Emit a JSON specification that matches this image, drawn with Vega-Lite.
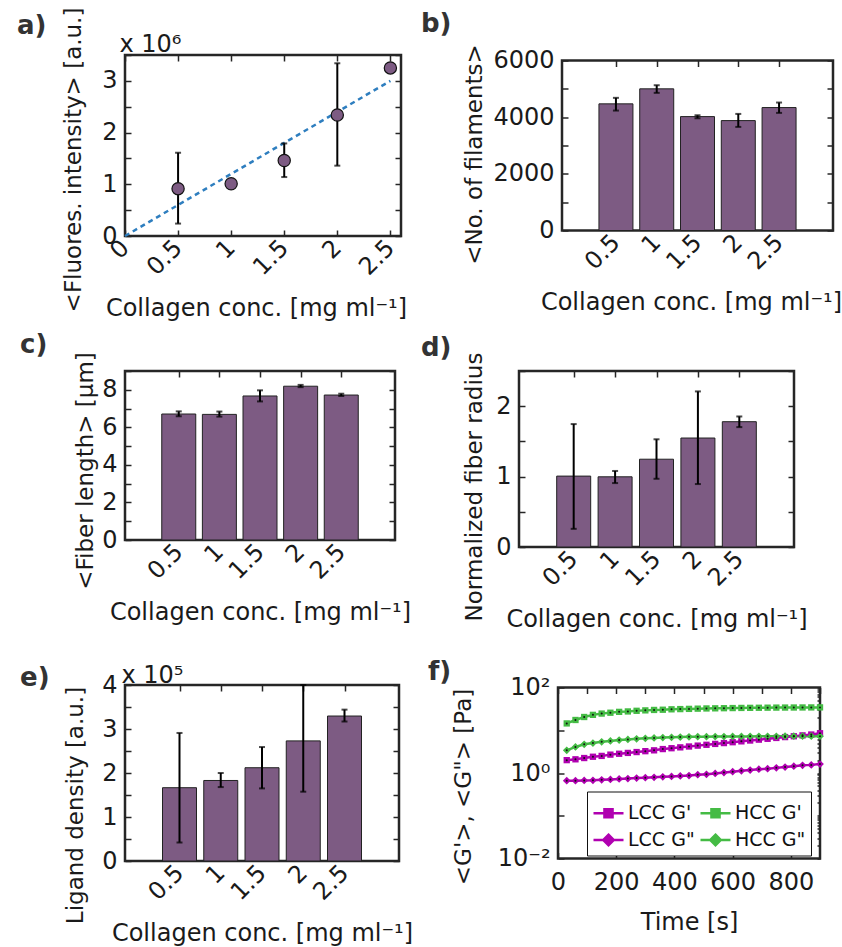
{
"$schema":"https://vega.github.io/schema/vega-lite/v6.json",
"padding":{"left":15,"top":5,"right":0,"bottom":2},
"spacing":8,
"resolve":{"scale":{"color":"independent"},"legend":{"color":"independent"}},
"config":{
 "font":"DejaVu Sans",
 "view":{"stroke":"#262626","strokeWidth":2.5},
 "axis":{"labelFont":"DejaVu Sans","titleFont":"DejaVu Sans","labelFontSize":24,"titleFontSize":24,"titleFontWeight":"normal","labelColor":"#1a1a1a","titleColor":"#1a1a1a","domain":false,"grid":false,"tickColor":"#262626","tickSize":-6,"tickWidth":1.5,"labelPadding":14,"titlePadding":10,"labelFlush":false,"labelOverlap":false,"labelBound":false},
 "axisX":{"titlePadding":17},
 "axisY":{"titleFontSize":23},
 "title":{"fontSize":26,"fontWeight":"bold","anchor":"start","frame":"group","color":"#333333","font":"DejaVu Sans"}
},
"vconcat":[
{"hconcat":[
 {"width":276,"height":181,
  "title":{"text":"a)","dx":-108,"dy":36},
  "data":{"values":[
   {"c":0.5,"v":915000,"lo":240000,"hi":1610000},
   {"c":1,"v":1010000,"lo":985000,"hi":1035000},
   {"c":1.5,"v":1460000,"lo":1140000,"hi":1790000},
   {"c":2,"v":2340000,"lo":1360000,"hi":3340000},
   {"c":2.5,"v":3250000,"lo":3220000,"hi":3280000}]},
  "layer":[
   {"data":{"values":[{"c":0,"v":0},{"c":2.5,"v":3000000}]},
    "mark":{"type":"line","strokeDash":[5,4],"strokeWidth":2.5,"color":"#2e7ebf"},
    "encoding":{"x":{"field":"c","type":"quantitative","axis":null},"y":{"field":"v","type":"quantitative","axis":null}}},
   {"mark":{"type":"rule","strokeWidth":2,"color":"black"},
    "encoding":{
     "x":{"field":"c","type":"quantitative","axis":{"orient":"top","labels":false,"title":"x 10⁶","values":[0,0.5,1,1.5,2,2.5],"titleX":-6,"titleY":-4,"titleAlign":"left","titleBaseline":"alphabetic","titleAnchor":null}},
     "y":{"field":"lo","type":"quantitative","axis":{"orient":"right","labels":false,"title":null,"values":[0,500000,1000000,1500000,2000000,2500000,3000000,3500000]}},
     "y2":{"field":"hi"}}},
   {"mark":{"type":"tick","orient":"horizontal","size":6,"thickness":2,"color":"black"},
    "encoding":{"x":{"field":"c","type":"quantitative","axis":null},"y":{"field":"lo","type":"quantitative","axis":null}}},
   {"mark":{"type":"tick","orient":"horizontal","size":6,"thickness":2,"color":"black"},
    "encoding":{"x":{"field":"c","type":"quantitative","axis":null},"y":{"field":"hi","type":"quantitative","axis":null}}},
   {"mark":{"type":"point","filled":true,"size":150,"fill":"#7d5b83","stroke":"#111111","strokeWidth":1.2,"opacity":1},
    "encoding":{
     "x":{"field":"c","type":"quantitative","scale":{"domain":[0,2.6],"nice":false,"zero":false},"axis":{"values":[0,0.5,1,1.5,2,2.5],"format":"~g","labelAngle":-45,"labelAlign":"right","labelBaseline":"middle","title":"Collagen conc. [mg ml⁻¹]","titleX":131}},
     "y":{"field":"v","type":"quantitative","scale":{"domain":[0,3500000],"nice":false},"axis":{"values":[0,500000,1000000,1500000,2000000,2500000,3000000,3500000],"labelExpr":"datum.value % 1000000 === 0 ? format(datum.value/1000000,'d') : ''","title":"<Fluores. intensity> [a.u.]","titleY":104.5,"titlePadding":16}}}}
  ],
  "resolve":{"axis":{"x":"independent","y":"independent"}}
 },
 {"width":271,"height":170,
  "title":{"text":"b)","dx":-141,"dy":-3},
  "data":{"values":[
   {"c":0.5,"v":4470,"lo":4233,"hi":4682},
   {"c":1,"v":5000,"lo":4858,"hi":5127},
   {"c":1.5,"v":4020,"lo":3961,"hi":4067},
   {"c":2,"v":3879,"lo":3656,"hi":4115},
   {"c":2.5,"v":4339,"lo":4151,"hi":4516}]},
  "layer":[
   {"mark":{"type":"bar","orient":"vertical","size":34,"color":"#7d5b83","stroke":"#222222","strokeWidth":1},
    "encoding":{
     "x":{"field":"c","type":"quantitative","scale":{"domain":[-0.1,3.1],"nice":false,"zero":false},"axis":{"values":[0.5,1,1.5,2,2.5],"format":"~g","labelAngle":-45,"labelAlign":"right","labelBaseline":"middle","title":"Collagen conc. [mg ml⁻¹]","titleX":129}},
     "y":{"field":"v","type":"quantitative","scale":{"domain":[0,6000],"nice":false},"axis":{"values":[0,1000,2000,3000,4000,5000,6000],"format":"d","labelExpr":"datum.value % 2000 === 0 ? datum.label : ''","title":"<No. of filaments>","titleY":93.5,"titlePadding":6}}}},
   {"mark":{"type":"rule","strokeWidth":2,"color":"black"},
    "encoding":{
     "x":{"field":"c","type":"quantitative","axis":{"orient":"top","labels":false,"title":null,"values":[0.5,1,1.5,2,2.5]}},
     "y":{"field":"lo","type":"quantitative","axis":{"orient":"right","labels":false,"title":null,"values":[0,1000,2000,3000,4000,5000,6000]}},
     "y2":{"field":"hi"}}},
   {"mark":{"type":"tick","orient":"horizontal","size":6,"thickness":2,"color":"black"},
    "encoding":{"x":{"field":"c","type":"quantitative","axis":null},"y":{"field":"lo","type":"quantitative","axis":null}}},
   {"mark":{"type":"tick","orient":"horizontal","size":6,"thickness":2,"color":"black"},
    "encoding":{"x":{"field":"c","type":"quantitative","axis":null},"y":{"field":"hi","type":"quantitative","axis":null}}}
  ],
  "resolve":{"axis":{"x":"independent","y":"independent"}}
 }
 ],"spacing":161,"bounds":"flush","center":true},
{"vconcat":[
{"hconcat":[
 {"width":270,"height":169,
  "title":{"text":"c)","dx":-105,"dy":10},
  "data":{"values":[
   {"c":0.5,"v":6.71,"lo":6.59,"hi":6.85},
   {"c":1,"v":6.69,"lo":6.57,"hi":6.84},
   {"c":1.5,"v":7.67,"lo":7.38,"hi":7.97},
   {"c":2,"v":8.19,"lo":8.14,"hi":8.26},
   {"c":2.5,"v":7.72,"lo":7.67,"hi":7.79}]},
  "layer":[
   {"mark":{"type":"bar","orient":"vertical","size":34,"color":"#7d5b83","stroke":"#222222","strokeWidth":1},
    "encoding":{
     "x":{"field":"c","type":"quantitative","scale":{"domain":[-0.1,3.1],"nice":false,"zero":false},"axis":{"values":[0.5,1,1.5,2,2.5],"format":"~g","labelAngle":-45,"labelAlign":"right","labelBaseline":"middle","title":"Collagen conc. [mg ml⁻¹]"}},
     "y":{"field":"v","type":"quantitative","scale":{"domain":[0,9],"nice":false},"axis":{"values":[0,1,2,3,4,5,6,7,8,9],"format":"d","labelExpr":"datum.value % 2 === 0 ? datum.label : ''","title":"<Fiber length> [µm]","titleY":99.5,"titlePadding":4}}}},
   {"mark":{"type":"rule","strokeWidth":2,"color":"black"},
    "encoding":{
     "x":{"field":"c","type":"quantitative","axis":{"orient":"top","labels":false,"title":null,"values":[0.5,1,1.5,2,2.5]}},
     "y":{"field":"lo","type":"quantitative","axis":{"orient":"right","labels":false,"title":null,"values":[0,1,2,3,4,5,6,7,8,9]}},
     "y2":{"field":"hi"}}},
   {"mark":{"type":"tick","orient":"horizontal","size":6,"thickness":2,"color":"black"},
    "encoding":{"x":{"field":"c","type":"quantitative","axis":null},"y":{"field":"lo","type":"quantitative","axis":null}}},
   {"mark":{"type":"tick","orient":"horizontal","size":6,"thickness":2,"color":"black"},
    "encoding":{"x":{"field":"c","type":"quantitative","axis":null},"y":{"field":"hi","type":"quantitative","axis":null}}}
  ],
  "resolve":{"axis":{"x":"independent","y":"independent"}}
 },
 {"width":275,"height":176,
  "title":{"text":"d)","dx":-98,"dy":13},
  "data":{"values":[
   {"c":0.5,"v":1.007,"lo":0.258,"hi":1.746},
   {"c":1,"v":0.997,"lo":0.908,"hi":1.08},
   {"c":1.5,"v":1.247,"lo":0.969,"hi":1.53},
   {"c":2,"v":1.548,"lo":0.894,"hi":2.21},
   {"c":2.5,"v":1.78,"lo":1.703,"hi":1.854}]},
  "layer":[
   {"mark":{"type":"bar","orient":"vertical","size":34,"color":"#7d5b83","stroke":"#222222","strokeWidth":1},
    "encoding":{
     "x":{"field":"c","type":"quantitative","scale":{"domain":[-0.1,3.1],"nice":false,"zero":false},"axis":{"values":[0.5,1,1.5,2,2.5],"format":"~g","labelAngle":-45,"labelAlign":"right","labelBaseline":"middle","title":"Collagen conc. [mg ml⁻¹]"}},
     "y":{"field":"v","type":"quantitative","scale":{"domain":[0,2.5],"nice":false},"axis":{"values":[0,0.5,1,1.5,2,2.5],"labelExpr":"datum.value % 1 === 0 ? format(datum.value,'d') : ''","title":"Normalized fiber radius","titleY":115.5,"titlePadding":9}}}},
   {"mark":{"type":"rule","strokeWidth":2,"color":"black"},
    "encoding":{
     "x":{"field":"c","type":"quantitative","axis":{"orient":"top","labels":false,"title":null,"values":[0.5,1,1.5,2,2.5]}},
     "y":{"field":"lo","type":"quantitative","axis":{"orient":"right","labels":false,"title":null,"values":[0,0.5,1,1.5,2,2.5]}},
     "y2":{"field":"hi"}}},
   {"mark":{"type":"tick","orient":"horizontal","size":6,"thickness":2,"color":"black"},
    "encoding":{"x":{"field":"c","type":"quantitative","axis":null},"y":{"field":"lo","type":"quantitative","axis":null}}},
   {"mark":{"type":"tick","orient":"horizontal","size":6,"thickness":2,"color":"black"},
    "encoding":{"x":{"field":"c","type":"quantitative","axis":null},"y":{"field":"hi","type":"quantitative","axis":null}}}
  ],
  "resolve":{"axis":{"x":"independent","y":"independent"}}
 }
 ],"spacing":124,"bounds":"flush","center":false},
{"hconcat":[
 {"width":274,"height":176,
  "title":{"text":"e)","dx":-105,"dy":31.5},
  "data":{"values":[
   {"c":0.5,"v":166600,"lo":42000,"hi":291000},
   {"c":1,"v":183000,"lo":168000,"hi":200000},
   {"c":1.5,"v":212000,"lo":165000,"hi":259000},
   {"c":2,"v":273000,"lo":157500,"hi":400000},
   {"c":2.5,"v":329500,"lo":317000,"hi":344000}]},
  "layer":[
   {"mark":{"type":"bar","orient":"vertical","size":34,"color":"#7d5b83","stroke":"#222222","strokeWidth":1},
    "encoding":{
     "x":{"field":"c","type":"quantitative","scale":{"domain":[-0.1,3.1],"nice":false,"zero":false},"axis":{"values":[0.5,1,1.5,2,2.5],"format":"~g","labelAngle":-45,"labelAlign":"right","labelBaseline":"middle","title":"Collagen conc. [mg ml⁻¹]"}},
     "y":{"field":"v","type":"quantitative","scale":{"domain":[0,400000],"nice":false},"axis":{"values":[0,50000,100000,150000,200000,250000,300000,350000,400000],"labelExpr":"datum.value % 100000 === 0 ? format(datum.value/100000,'d') : ''","title":"Ligand density [a.u.]","titleY":120,"titlePadding":14}}}},
   {"mark":{"type":"rule","strokeWidth":2,"color":"black"},
    "encoding":{
     "x":{"field":"c","type":"quantitative","axis":{"orient":"top","labels":false,"title":"x 10⁵","values":[0.5,1,1.5,2,2.5],"titleX":-4,"titleY":-3,"titleAlign":"left","titleBaseline":"alphabetic","titleAnchor":null}},
     "y":{"field":"lo","type":"quantitative","axis":{"orient":"right","labels":false,"title":null,"values":[0,50000,100000,150000,200000,250000,300000,350000,400000]}},
     "y2":{"field":"hi"}}},
   {"mark":{"type":"tick","orient":"horizontal","size":6,"thickness":2,"color":"black"},
    "encoding":{"x":{"field":"c","type":"quantitative","axis":null},"y":{"field":"lo","type":"quantitative","axis":null}}},
   {"mark":{"type":"tick","orient":"horizontal","size":6,"thickness":2,"color":"black"},
    "encoding":{"x":{"field":"c","type":"quantitative","axis":null},"y":{"field":"hi","type":"quantitative","axis":null}}}
  ],
  "resolve":{"axis":{"x":"independent","y":"independent"}}
 },
 {"width":262,"height":171,
  "title":{"text":"f)","dx":-130,"dy":13.5},
  "data":{"values":[
   {"t":30,"s":"HCC G'","g":14.45},{"t":60,"s":"HCC G'","g":17.38},{"t":90,"s":"HCC G'","g":20.42},{"t":120,"s":"HCC G'","g":22.91},{"t":150,"s":"HCC G'","g":24.55},{"t":180,"s":"HCC G'","g":25.70},{"t":210,"s":"HCC G'","g":26.92},{"t":240,"s":"HCC G'","g":27.54},{"t":270,"s":"HCC G'","g":28.51},{"t":300,"s":"HCC G'","g":29.17},{"t":330,"s":"HCC G'","g":29.85},{"t":360,"s":"HCC G'","g":30.20},{"t":390,"s":"HCC G'","g":30.90},{"t":420,"s":"HCC G'","g":31.26},{"t":450,"s":"HCC G'","g":31.62},{"t":480,"s":"HCC G'","g":31.99},{"t":510,"s":"HCC G'","g":32.36},{"t":540,"s":"HCC G'","g":32.58},{"t":570,"s":"HCC G'","g":32.81},{"t":600,"s":"HCC G'","g":33.04},{"t":630,"s":"HCC G'","g":33.27},{"t":660,"s":"HCC G'","g":33.42},{"t":690,"s":"HCC G'","g":33.57},{"t":720,"s":"HCC G'","g":33.73},{"t":750,"s":"HCC G'","g":33.88},{"t":780,"s":"HCC G'","g":33.96},{"t":810,"s":"HCC G'","g":34.04},{"t":840,"s":"HCC G'","g":34.12},{"t":870,"s":"HCC G'","g":34.20},{"t":900,"s":"HCC G'","g":34.28},
   {"t":30,"s":"HCC G\"","g":3.39},{"t":60,"s":"HCC G\"","g":4.07},{"t":90,"s":"HCC G\"","g":4.68},{"t":120,"s":"HCC G\"","g":5.01},{"t":150,"s":"HCC G\"","g":5.37},{"t":180,"s":"HCC G\"","g":5.62},{"t":210,"s":"HCC G\"","g":5.89},{"t":240,"s":"HCC G\"","g":6.10},{"t":270,"s":"HCC G\"","g":6.31},{"t":300,"s":"HCC G\"","g":6.46},{"t":330,"s":"HCC G\"","g":6.61},{"t":360,"s":"HCC G\"","g":6.76},{"t":390,"s":"HCC G\"","g":6.84},{"t":420,"s":"HCC G\"","g":6.92},{"t":450,"s":"HCC G\"","g":7.00},{"t":480,"s":"HCC G\"","g":7.08},{"t":510,"s":"HCC G\"","g":7.08},{"t":540,"s":"HCC G\"","g":7.11},{"t":570,"s":"HCC G\"","g":7.14},{"t":600,"s":"HCC G\"","g":7.16},{"t":630,"s":"HCC G\"","g":7.18},{"t":660,"s":"HCC G\"","g":7.19},{"t":690,"s":"HCC G\"","g":7.21},{"t":720,"s":"HCC G\"","g":7.21},{"t":750,"s":"HCC G\"","g":7.23},{"t":780,"s":"HCC G\"","g":7.24},{"t":810,"s":"HCC G\"","g":7.24},{"t":840,"s":"HCC G\"","g":7.24},{"t":870,"s":"HCC G\"","g":7.24},{"t":900,"s":"HCC G\"","g":7.24},
   {"t":30,"s":"LCC G'","g":2.00},{"t":60,"s":"LCC G'","g":2.09},{"t":90,"s":"LCC G'","g":2.24},{"t":120,"s":"LCC G'","g":2.40},{"t":150,"s":"LCC G'","g":2.51},{"t":180,"s":"LCC G'","g":2.69},{"t":210,"s":"LCC G'","g":2.82},{"t":240,"s":"LCC G'","g":2.95},{"t":270,"s":"LCC G'","g":3.09},{"t":300,"s":"LCC G'","g":3.24},{"t":330,"s":"LCC G'","g":3.39},{"t":360,"s":"LCC G'","g":3.63},{"t":390,"s":"LCC G'","g":3.80},{"t":420,"s":"LCC G'","g":3.98},{"t":450,"s":"LCC G'","g":4.17},{"t":480,"s":"LCC G'","g":4.37},{"t":510,"s":"LCC G'","g":4.57},{"t":540,"s":"LCC G'","g":4.79},{"t":570,"s":"LCC G'","g":5.01},{"t":600,"s":"LCC G'","g":5.25},{"t":630,"s":"LCC G'","g":5.50},{"t":660,"s":"LCC G'","g":5.75},{"t":690,"s":"LCC G'","g":6.03},{"t":720,"s":"LCC G'","g":6.31},{"t":750,"s":"LCC G'","g":6.61},{"t":780,"s":"LCC G'","g":6.92},{"t":810,"s":"LCC G'","g":7.24},{"t":840,"s":"LCC G'","g":7.59},{"t":870,"s":"LCC G'","g":7.94},{"t":900,"s":"LCC G'","g":8.51},
   {"t":30,"s":"LCC G\"","g":0.661},{"t":60,"s":"LCC G\"","g":0.661},{"t":90,"s":"LCC G\"","g":0.668},{"t":120,"s":"LCC G\"","g":0.676},{"t":150,"s":"LCC G\"","g":0.692},{"t":180,"s":"LCC G\"","g":0.708},{"t":210,"s":"LCC G\"","g":0.724},{"t":240,"s":"LCC G\"","g":0.741},{"t":270,"s":"LCC G\"","g":0.759},{"t":300,"s":"LCC G\"","g":0.776},{"t":330,"s":"LCC G\"","g":0.794},{"t":360,"s":"LCC G\"","g":0.813},{"t":390,"s":"LCC G\"","g":0.832},{"t":420,"s":"LCC G\"","g":0.851},{"t":450,"s":"LCC G\"","g":0.871},{"t":480,"s":"LCC G\"","g":0.912},{"t":510,"s":"LCC G\"","g":0.933},{"t":540,"s":"LCC G\"","g":0.977},{"t":570,"s":"LCC G\"","g":1.023},{"t":600,"s":"LCC G\"","g":1.072},{"t":630,"s":"LCC G\"","g":1.122},{"t":660,"s":"LCC G\"","g":1.175},{"t":690,"s":"LCC G\"","g":1.230},{"t":720,"s":"LCC G\"","g":1.259},{"t":750,"s":"LCC G\"","g":1.318},{"t":780,"s":"LCC G\"","g":1.380},{"t":810,"s":"LCC G\"","g":1.445},{"t":840,"s":"LCC G\"","g":1.514},{"t":870,"s":"LCC G\"","g":1.549},{"t":900,"s":"LCC G\"","g":1.622}
  ]},
  "layer":[
   {"mark":{"type":"line","strokeWidth":2.5},
    "encoding":{
     "x":{"field":"t","type":"quantitative","scale":{"domain":[0,900],"nice":false,"zero":false},"axis":{"values":[0,200,400,600,800],"format":"d","title":"Time [s]","labelAngle":0,"labelAlign":"center","labelBaseline":"top","labelPadding":18,"titlePadding":16}},
     "y":{"field":"g","type":"quantitative","scale":{"type":"log","domain":[0.01,100],"nice":false},"axis":{"values":[0.01,0.1,1,10,100],"labelExpr":"datum.value > 50 ? '10²' : (datum.value > 0.5 && datum.value < 2) ? '10⁰' : datum.value < 0.02 ? '10⁻²' : ''","title":"<G'>, <G\"> [Pa]","titleY":99,"titlePadding":22}},
     "color":{"field":"s","type":"nominal","scale":{"domain":["LCC G'","HCC G'","LCC G\"","HCC G\""],"range":["#b000b0","#44bb44","#b000b0","#44bb44"]},
      "legend":{"orient":"none","legendX":29,"legendY":104,"columns":2,"direction":"horizontal","title":null,"labelFont":"DejaVu Sans","labelFontSize":19,"labelColor":"#111111","strokeColor":"#111111","fillColor":"white","padding":5,"symbolSize":900,"symbolStrokeWidth":2.5,"columnPadding":0,"rowPadding":0,"labelOffset":3,"symbolType":"stroke",
       "encode":{"symbols":{"update":{"shape":{"signal":"indexof(datum.value, '\"') >= 0 ? 'M-1,0H1M0,-0.35L0.35,0L0,0.35L-0.35,0Z' : 'M-1,0H1M-0.27,-0.27H0.27V0.27H-0.27Z'"},"fill":{"signal":"indexof(datum.value, 'LCC') >= 0 ? '#b000b0' : '#44bb44'"}}}}}}}},
   {"transform":[{"filter":{"field":"s","oneOf":["LCC G'"]}}],
    "mark":{"type":"point","shape":"square","filled":true,"size":40,"color":"#b000b0","opacity":1},
    "encoding":{
     "x":{"field":"t","type":"quantitative","axis":{"orient":"top","labels":false,"title":null,"values":[0,100,200,300,400,500,600,700,800,900]}},
     "y":{"field":"g","type":"quantitative","axis":{"orient":"right","labels":false,"title":null,"values":[0.01,0.02,0.03,0.04,0.05,0.06,0.07,0.08,0.09,0.1,0.2,0.3,0.4,0.5,0.6,0.7,0.8,0.9,1,2,3,4,5,6,7,8,9,10,20,30,40,50,60,70,80,90,100],"tickSize":-3}}}},
   {"transform":[{"filter":{"field":"s","oneOf":["HCC G'"]}}],
    "mark":{"type":"point","shape":"square","filled":true,"size":40,"color":"#44bb44","opacity":1},
    "encoding":{"x":{"field":"t","type":"quantitative","axis":null},"y":{"field":"g","type":"quantitative","axis":null}}},
   {"transform":[{"filter":{"field":"s","oneOf":["LCC G\""]}}],
    "mark":{"type":"point","shape":"diamond","filled":true,"size":60,"color":"#b000b0","opacity":1},
    "encoding":{"x":{"field":"t","type":"quantitative","axis":null},"y":{"field":"g","type":"quantitative","axis":null}}},
   {"transform":[{"filter":{"field":"s","oneOf":["HCC G\""]}}],
    "mark":{"type":"point","shape":"diamond","filled":true,"size":60,"color":"#44bb44","opacity":1},
    "encoding":{"x":{"field":"t","type":"quantitative","axis":null},"y":{"field":"g","type":"quantitative","axis":null}}},
   {"mark":{"type":"point","shape":"circle","filled":true,"size":4,"color":"#111111","opacity":1},
    "encoding":{"x":{"field":"t","type":"quantitative","axis":null},"y":{"field":"g","type":"quantitative","axis":null}}}
  ],
  "resolve":{"axis":{"x":"independent","y":"independent"}}
 }
 ],"spacing":159,"bounds":"flush","center":true,
 "resolve":{"scale":{"color":"independent"},"legend":{"color":"independent"}}}
],"spacing":24,
"resolve":{"scale":{"color":"independent"},"legend":{"color":"independent"}}}
]
}
